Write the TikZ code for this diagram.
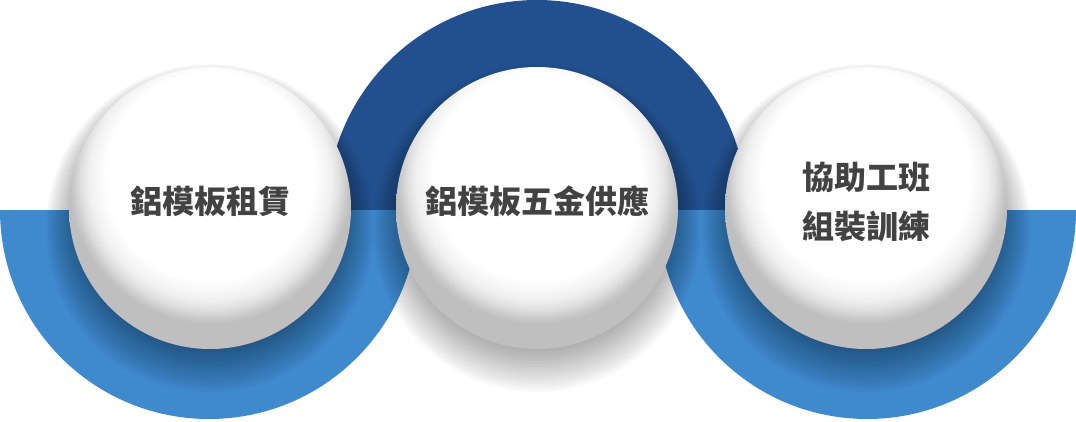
\documentclass[tikz,border=0pt]{standalone}
\usepackage{fontspec}
\newfontfamily\cjk{Noto Sans CJK TC}
\usetikzlibrary{positioning}
\definecolor{ringblue}{RGB}{63,137,205}
\definecolor{ringdark}{RGB}{34,80,143}
\definecolor{textgrey}{RGB}{66,66,66}
\pgfdeclareradialshading{ballshade}{\pgfpoint{0bp}{9bp}}{color(0bp)=(white); color(18.5bp)=(white); color(21.5bp)=(black!6); color(23bp)=(black!13); color(24.2bp)=(black!21); color(25bp)=(black!25); color(50bp)=(black!25)}
\tikzstyle{ball} = [circle, minimum size=282pt, inner sep=0pt, shading=ballshade]
\tikzstyle{blur} = [fill=black, fill opacity=0.022]
\tikzstyle{caption} = [font=\cjk\bfseries\fontsize{32}{49}\selectfont, text=textgrey, align=center]

\begin{document}
\begin{tikzpicture}[x=1pt, y=1pt]
\useasboundingbox (0,0) rectangle (1076,421);
\coordinate (c1) at (210,213);
\coordinate (c2) at (537,213);
\coordinate (c3) at (866,213);

% half rings
\fill [ringdark] (327,211) arc (180:0:210) -- cycle;
\fill [ringblue] (0,211) arc (180:360:209) -- cycle;
\fill [ringblue] (658,211) arc (180:360:209) -- cycle;

% soft shadows
\foreach \c in {c1,c2,c3}
  \foreach \k in {0,...,15}
    \fill [blur] ([yshift=-8pt-0.8pt*\k]\c) circle (134+2*\k);

\node (rental) [ball] at (c1) {};
\node (supply) [ball] at (c2) {};
\node (training) [ball] at (c3) {};

\node (rentaltext) [caption] at ([yshift=7pt]rental.center) {鋁模板租賃};
\node (supplytext) [caption] at ([yshift=7pt]supply.center) {鋁模板五金供應};
\node (trainingtext) [caption] at ([yshift=6pt]training.center) {協助工班\\組裝訓練};
\end{tikzpicture}
\end{document}
